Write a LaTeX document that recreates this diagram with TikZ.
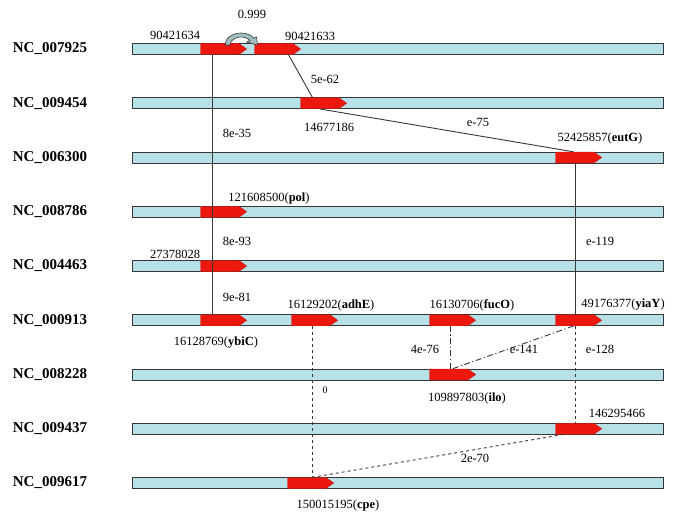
\documentclass[tikz,border=0pt]{standalone}
\usepackage{fontspec}
\setmainfont{Liberation Serif}
\usepackage{tikz}
\usetikzlibrary{
  	calc,
  	positioning,
  	shapes.symbols
  }
\definecolor{barblue}{RGB}{184,225,231}
\definecolor{genered}{RGB}{236,24,14}
\definecolor{swoopgray}{RGB}{160,190,192}
\definecolor{edgegray}{RGB}{55,55,55}
\tikzstyle{bar}=[draw=edgegray,fill=barblue,line width=1pt,minimum width=531pt,minimum height=11pt,inner sep=0pt]
\tikzstyle{gene}=[signal,signal to=east,signal from=nowhere,signal pointer angle=70,fill=genered,draw=genered!85!black,line width=0.4pt,minimum width=46pt,minimum height=11pt,inner sep=0pt]
\tikzstyle{ncname}=[font=\fontsize{15}{17}\selectfont\bfseries]
\tikzstyle{num}=[font=\fontsize{12.5}{14}\selectfont,inner sep=1pt]
\tikzstyle{link}=[draw=edgegray,line width=0.9pt]
\tikzstyle{dashdot}=[dash pattern=on 6pt off 2.5pt on 1.2pt off 2.5pt]

\begin{document}
\begin{tikzpicture}[x=1pt,y=-1pt]
\useasboundingbox (0,0) rectangle (685,532);
\foreach \nc [count=\i] in {007925,009454,006300,008786,004463,000913,008228,009437,009617}{
  \node[ncname] (nc\i) at (50,{49+54.25*(\i-1)}) {NC\_\nc};
  \node[bar] (bar\i) at (397.5,{49+54.25*(\i-1)}) {};
}
\node[gene,right=69pt of bar1.west] (g1a) {};
\node[gene,right=123pt of bar1.west] (g1b) {};
\node[gene,right=169pt of bar2.west] (g2) {};
\node[gene,right=424pt of bar3.west] (g3) {};
\node[gene,right=69pt of bar4.west] (g4) {};
\node[gene,right=69pt of bar5.west] (g5) {};
\node[gene,right=69pt of bar6.west] (g6a) {};
\node[gene,right=160pt of bar6.west] (g6b) {};
\node[gene,right=298pt of bar6.west] (g6c) {};
\node[gene,right=424pt of bar6.west] (g6d) {};
\node[gene,right=298pt of bar7.west] (g7) {};
\node[gene,right=424pt of bar8.west] (g8) {};
\node[gene,right=156pt of bar9.west] (g9) {};
\draw[link] ($(g1a.south west)+(12,0)$) -- ($(g6a.north west)+(12,0)$);
\draw[link] ($(g1b.south west)+(34,0)$) -- ($(g2.north west)+(12,0)$);
\draw[link] (g2.south) -- ($(g3.north west)+(18,0)$);
\draw[link] ($(g3.south west)+(20,0)$) -- ($(g6d.north west)+(20,0)$);
\draw[link,dashed] ($(g6b.south west)+(21,0)$) -- ($(g9.north west)+(25,0)$);
\draw[link,dashdot] ($(g6c.south west)+(21,0)$) -- ($(g7.north west)+(21,0)$);
\draw[link,dashdot] ($(g6d.south west)+(18,0)$) -- ($(g7.north west)+(23,0)$);
\draw[link,dashed] ($(g6d.south west)+(20,0)$) -- ($(g8.north west)+(20,0)$);
\draw[link,dashed] ($(g8.south west)+(8,0)$) -- ($(g9.north west)+(25,0)$);
\filldraw[draw=edgegray,fill=swoopgray,line width=0.6pt]
   (225,45) arc[start angle=180,end angle=325,x radius=16,y radius=12]
   -- (256.6,37) -- (257.4,45) -- (246.7,42.1) -- (250,40.4)
   arc[start angle=325,end angle=180,x radius=11,y radius=8] -- cycle;
\node[num] (p0999) at (252,14) {0.999};
\node[num] (l1a) at (175,35) {90421634};
\node[num] (l1b) at (310,36) {90421633};
\node[num] (e12) at (325,79) {5e-62};
\node[num] (l2) at (329,127) {14677186};
\node[num] (e16) at (237,133) {8e-35};
\node[num] (e23) at (478,122) {e-75};
\node[num] (l3) at (600,138) {52425857(\textbf{eutG})};
\node[num] (l4) at (269,198) {121608500(\textbf{pol})};
\node[num] (e46) at (237,241) {8e-93};
\node[num] (e36) at (600,241) {e-119};
\node[num] (l5) at (175,254) {27378028};
\node[num] (e56) at (237,297) {9e-81};
\node[num] (l6b) at (331,305) {16129202(\textbf{adhE})};
\node[num] (l6c) at (472,305) {16130706(\textbf{fucO})};
\node[num] (l6d) at (623,305) {49176377(\textbf{yiaY})};
\node[num] (l6a) at (216,343) {16128769(\textbf{ybiC})};
\node[num] (e67a) at (425,349) {4e-76};
\node[num] (e67b) at (524,349) {e-141};
\node[num] (e68) at (600,349) {e-128};
\node[num,font=\fontsize{10}{11}\selectfont] (e69) at (325,390) {0};
\node[num] (l7) at (467,398) {109897803(\textbf{ilo})};
\node[num] (l8) at (617,413) {146295466};
\node[num] (e89) at (475,458) {2e-70};
\node[num] (l9) at (338,505) {150015195(\textbf{cpe})};
\end{tikzpicture}
\end{document}
